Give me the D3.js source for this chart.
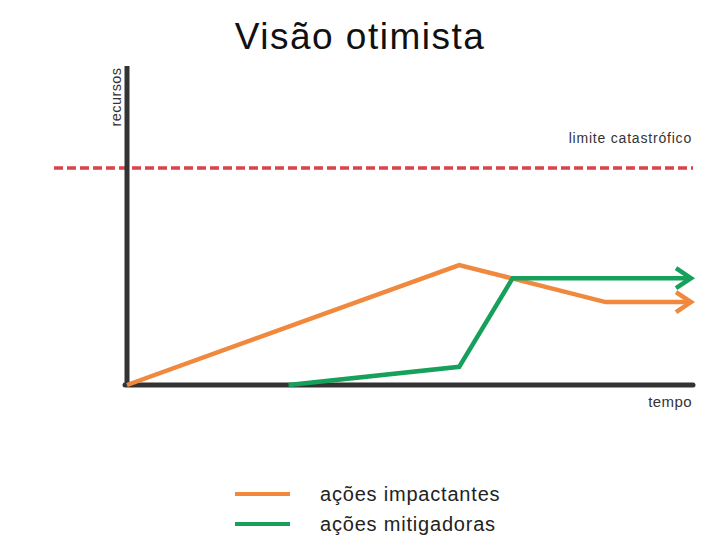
<!DOCTYPE html>
<html>
<head>
<meta charset="utf-8">
<script src="https://cdn.jsdelivr.net/npm/d3@7"></script>
<style>
  body { margin:0; background:#fff; }
  text { font-family: "Liberation Sans", Arial, sans-serif; }
</style>
</head>
<body>
<div class="canvas"></div>
<script>
// dados (unidades arbitrárias: tempo 0-10, recursos 0-10)
var impactX = [0, 5.9, 6.82, 8.5, 10];
var impactY = [0, 3.76, 3.35, 2.6, 2.6];
var mitigX  = [2.87, 5.9, 6.85, 10];
var mitigY  = [0, 0.57, 3.35, 3.35];
var limite  = 6.8;
var series  = ["ações impactantes", "ações mitigadoras"];
var cores   = ["#f0883e", "#16a05c"];

var width = 720, height = 540;
var svg = d3.select(".canvas").append("svg")
  .attr("width", width).attr("height", height);

var x = d3.scaleLinear().domain([0, 10]).range([127, 690]);
var y = d3.scaleLinear().domain([0, 10]).range([385, 66]);

// título
svg.append("text").text("Visão otimista")
  .attr("x", 360).attr("y", 49)
  .attr("text-anchor", "middle")
  .attr("style", "font-size:37px; letter-spacing:1.5px; fill:#111");

// linha limite
svg.append("line")
  .attr("x1", 54).attr("x2", 693)
  .attr("y1", y(limite)).attr("y2", y(limite))
  .attr("stroke", "#d9434b").attr("stroke-width", 3.5)
  .attr("stroke-dasharray", "9,4");

svg.append("text").text("limite catastrófico")
  .attr("x", 692).attr("y", 143).attr("text-anchor", "end")
  .attr("style", "font-size:14px; letter-spacing:0.8px; fill:#333");

// eixos
svg.append("line")
  .attr("x1", x(0)).attr("x2", x(0))
  .attr("y1", y(10)).attr("y2", y(0) + 2)
  .attr("stroke", "#333").attr("stroke-width", 5);
svg.append("line")
  .attr("x1", x(0) - 2).attr("x2", 693)
  .attr("y1", y(0)).attr("y2", y(0))
  .attr("stroke", "#333").attr("stroke-width", 5).attr("stroke-linecap", "round");

svg.append("text").text("recursos")
  .attr("transform", "translate(121,97) rotate(-90)")
  .attr("text-anchor", "middle")
  .attr("style", "font-size:14.5px; letter-spacing:0.4px; fill:#333");
svg.append("text").text("tempo")
  .attr("x", 692).attr("y", 407).attr("text-anchor", "end")
  .attr("style", "font-size:15px; letter-spacing:0.4px; fill:#333");

// linhas
var line = d3.line().x(function(d){ return x(d[0]); }).y(function(d){ return y(d[1]); });
var dados = [
  d3.zip(impactX, impactY),
  d3.zip(mitigX, mitigY)
];
dados.forEach(function(pts, i){
  svg.append("path")
    .attr("d", line(pts))
    .attr("fill", "none")
    .attr("stroke", cores[i]).attr("stroke-width", 4.5)
    .attr("stroke-linejoin", "miter");
  // seta
  var last = pts[pts.length - 1];
  var tx = x(last[0]) + 1, ty = y(last[1]);
  svg.append("path")
    .attr("d", "M" + (tx - 15) + "," + (ty - 10) + "L" + tx + "," + ty + "L" + (tx - 15) + "," + (ty + 10))
    .attr("fill", "none")
    .attr("stroke", cores[i]).attr("stroke-width", 4.5);
});

// legenda
var leg = svg.selectAll(".leg").data(series).enter().append("g");
leg.append("line")
  .attr("x1", 235).attr("x2", 290)
  .attr("y1", function(d, i){ return 494 + i * 30; })
  .attr("y2", function(d, i){ return 494 + i * 30; })
  .attr("stroke", function(d, i){ return cores[i]; })
  .attr("stroke-width", 4);
leg.append("text").text(function(d){ return d; })
  .attr("x", 320)
  .attr("y", function(d, i){ return 501 + i * 30; })
  .attr("style", "font-size:20px; letter-spacing:0.8px; fill:#222");
</script>
</body>
</html>
